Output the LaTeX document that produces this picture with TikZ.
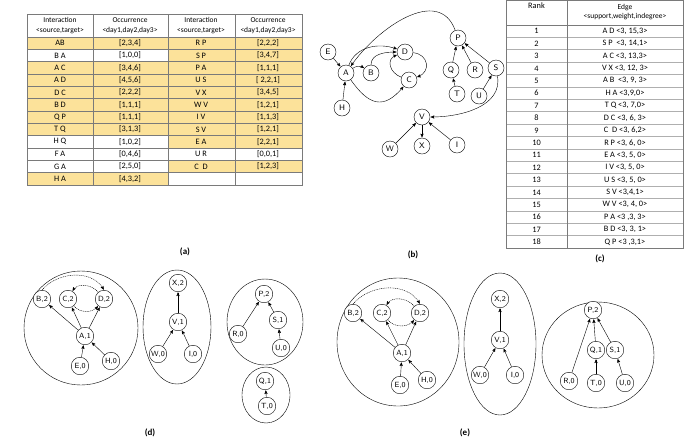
\documentclass[tikz,border=0pt]{standalone}
\usepackage{fontspec}
\setmainfont{Carlito}
\usetikzlibrary{arrows}
\definecolor{rowfill}{HTML}{FCE29A}
\definecolor{rule}{HTML}{7A7A7A}
\tikzset{
c/.style={
  circle,solid,
  inner sep=0pt,
  minimum width=16pt,
  align=center,
  draw=black,
  fill=white,
  font=\sffamily\fontsize{8}{9}\selectfont
  },
cc/.style={c,minimum width=17.5pt,font=\sffamily\fontsize{7.5}{8}\selectfont},
cell/.style={font=\fontsize{8.3}{9}\selectfont,inner sep=0pt},
hd/.style={cell,align=center,font=\fontsize{7.5}{9.5}\selectfont},
lbl/.style={font=\bfseries\fontsize{9}{10}\selectfont},
grp/.style={draw=black,thin},
dot/.style={densely dashed,dash pattern=on 1pt off 0.8pt}
}
\begin{document}
\begin{tikzpicture}[x=1pt,y=1pt,->,>=stealth',shorten >=0.5pt,thin]
\useasboundingbox (0,0) rectangle (685,-440);
% table (a)
\foreach \s/\o/\f [count=\i from 0] in {AB/{[2,3,4]}/1,B A/{[1,0,0]}/0,A C/{[3,4,6]}/1,A D/{[4,5,6]}/1,D C/{[2,2,2]}/1,B D/{[1,1,1]}/1,Q P/{[1,1,1]}/1,T Q/{[3,1,3]}/1,H Q/{[1,0,2]}/0,F A/{[0,4,6]}/0,G A/{[2,5,0]}/0,H A/{[4,3,2]}/1}{
  \ifnum\f=1 \fill[rowfill] (27,-37-\i*12.33) rectangle (168,-49.33-\i*12.33);\fi
  \node[cell] (al\i) at (60,-43.2-\i*12.33) {\s};
  \node[cell] (ao\i) at (130,-43.2-\i*12.33) {\o};
}
\foreach \s/\o/\f [count=\i from 0] in {R P/{[2,2,2]}/1,S P/{[3,4,7]}/1,P A/{[1,1,1]}/1,U S/{[ 2,2,1]}/1,V X/{[3,4,5]}/1,W V/{[1,2,1]}/1,I V/{[1,1,3]}/1,S V/{[1,2,1]}/1,E A/{[2,2,1]}/1,U R/{[0,0,1]}/0,C\ \ D/{[1,2,3]}/1,{}/{}/0}{
  \ifnum\f=1 \fill[rowfill] (168,-37-\i*12.33) rectangle (302,-49.33-\i*12.33);\fi
  \node[cell] (ar\i) at (201,-43.2-\i*12.33) {\s};
  \node[cell] (ap\i) at (268,-43.2-\i*12.33) {\o};
}
\foreach \i in {0,...,12} \draw[-,rule,line width=0.7pt] (27,-37-\i*12.33) -- (302,-37-\i*12.33);
\draw[-,rule,line width=0.7pt] (27,-14) rectangle (302,-185);
\foreach \x in {93,168,235} \draw[-,rule,line width=0.7pt] (\x,-14) -- (\x,-185);
\node[hd] (ah1) at (60,-25.5) {Interaction\\<source,target>};
\node[hd] (ah2) at (130,-25.5) {Occurrence\\<day1,day2,day3>};
\node[hd] (ah3) at (201,-25.5) {Interaction\\<source,target>};
\node[hd] (ah4) at (268,-25.5) {Occurrence\\<day1,day2,day3>};
\node[lbl] (la) at (185,-252) {(a)};
% graph (b)
\node[c] (E) at (328,-52) {E};
\node[c] (A) at (346,-73) {A};
\node[c] (B) at (371,-73) {B};
\node[c] (D) at (405,-52) {D};
\node[c] (C) at (409,-80) {C};
\node[c] (H) at (342,-108) {H};
\node[c] (P) at (458,-38) {P};
\node[c] (Q) at (451,-70) {Q};
\node[c] (R) at (475,-70) {R};
\node[c] (S) at (496,-68) {S};
\node[c] (T) at (457,-94) {T};
\node[c] (U) at (479,-96) {U};
\node[c] (V) at (422,-117) {V};
\node[c] (W) at (390,-149) {W};
\node[c] (X) at (422,-146) {X};
\node[c] (I) at (457,-145) {I};
\path[->]
  (E) edge (A)
  (A) edge [bend left=35] (B)
  (B) edge [out=90,in=180] (D)
  (A) edge [out=70,in=160] (D)
  (D) edge [out=-5,in=20,looseness=1.6] (C)
  (C) edge [out=160,in=200,looseness=1.4] (D)
  (A) edge [out=-55,in=230,looseness=1.5] (C)
  (H) edge (A)
  (P) edge [out=110,in=55,looseness=1.1] (A)
  (Q) edge (P)
  (T) edge (Q)
  (R) edge (P)
  (S) edge (P)
  (U) edge (S)
  (S) edge [out=-80,in=0] (V)
  (W) edge (V)
  (V) edge (X)
  (I) edge (V)
  ;
\draw[-,rule!70] (506,0) -- (506,-230);
\node[lbl] (lb) at (413,-255) {(b)};
% table (c)
\foreach \e [count=\i from 1] in {A D <3{,} 15{,}3>,S P \ <3{,} 14{,}1>,A C <3{,} 13{,}3>,V X <3{,} 12{,} 3>,A B \ <3{,} 9{,} 3>,H A <3{,}9{,}0>,T Q <3{,} 7{,}0>,D C <3{,} 6{,} 3>,C \ D <3{,} 6{,}2>,R P <3{,} 6{,} 0>,E A <3{,} 5{,} 0>,I V <3{,} 5{,} 0>,U S <3{,} 5{,} 0>,S V <3{,}4{,}1>,W V <3{,} 4{,} 0>,P A <3 {,}3{,} 3>,B D <3{,} 3{,} 1>,Q P <3 {,}3{,}1>}{
  \node[cell] (cr\i) at (536.5,-18.8-\i*12.4) {\i};
  \node[cell] (ce\i) at (625,-18.8-\i*12.4) {\e};
  \draw[-,rule!60,line width=0.9pt] (506,-25-\i*12.4) -- (683,-25-\i*12.4);
}
\draw[-,rule,line width=0.7pt] (506,0) rectangle (683,-248.2);
\draw[-,rule,line width=0.7pt] (567,0) -- (567,-248.2);
\draw[-,rule,line width=0.7pt] (506,-25) -- (683,-25);
\node[cell] (ch1) at (536.5,-6) {Rank};
\node[hd] (ch2) at (625,-12) {Edge\\<support,weight,indegree>};
\node[lbl] (lc) at (600,-259) {(c)};
% forest (d)
\draw[grp] (81,-328) circle (57);
\draw[grp] (177,-327) ellipse (34 and 57);
\draw[grp] (265,-322) ellipse (38 and 43);
\draw[grp] (266,-395) ellipse (24 and 28);
\node[cc] (dB) at (42,-299) {B,2};
\node[cc] (dC) at (68,-299) {C,2};
\node[cc] (dD) at (104,-299) {D,2};
\node[cc] (dA) at (85,-336) {A,1};
\node[cc] (dE) at (80,-366) {E,0};
\node[cc] (dH) at (111,-361) {H,0};
\node[cc] (dX) at (178,-283) {X,2};
\node[cc] (dV) at (178,-322) {V,1};
\node[cc] (dW) at (158,-354) {W,0};
\node[cc] (dI) at (193,-354) {I,0};
\node[cc] (dP) at (264,-294) {P,2};
\node[cc] (dS) at (278,-320) {S,1};
\node[cc] (dR) at (238,-334) {R,0};
\node[cc] (dU) at (281,-348) {U,0};
\node[cc] (dQ) at (265,-381) {Q,1};
\node[cc] (dT) at (267,-406) {T,0};
\path[->]
  (dA) edge (dB) (dA) edge (dC) (dA) edge (dD)
  (dE) edge (dA) (dH) edge (dA)
  (dB.north) edge [dot,out=50,in=120] (dD.north)
  (dD) edge [dot,out=130,in=60] (dC)
  (dC) edge [dot,out=-50,in=-130] (dD)
  (dV) edge (dX) (dW) edge (dV) (dI) edge (dV)
  (dR) edge (dP) (dS) edge (dP) (dU) edge (dS)
  (dT) edge (dQ)
  ;
\node[lbl] (ld) at (150,-433) {(d)};
% forest (e)
\draw[grp] (398,-342) ellipse (61 and 64);
\draw[grp] (500,-344) ellipse (36 and 71);
\draw[grp] (598,-355) ellipse (56 and 53);
\node[cc] (eB) at (353,-313) {B,2};
\node[cc] (eC) at (382,-313) {C,2};
\node[cc] (eD) at (420,-313) {D,2};
\node[cc] (eA) at (402,-353) {A,1};
\node[cc] (eE) at (400,-385) {E,0};
\node[cc] (eH) at (427,-380) {H,0};
\node[cc] (eX) at (500,-299) {X,2};
\node[cc] (eV) at (500,-340) {V,1};
\node[cc] (eW) at (480,-375) {W,0};
\node[cc] (eI) at (515,-375) {I,0};
\node[cc] (eP) at (593,-310) {P,2};
\node[cc] (eQ) at (596,-350) {Q,1};
\node[cc] (eS) at (615,-350) {S,1};
\node[cc] (eR) at (569,-381) {R,0};
\node[cc] (eT) at (596,-383) {T,0};
\node[cc] (eU) at (625,-383) {U,0};
\path[->]
  (eA) edge (eB) (eA) edge (eC) (eA) edge (eD)
  (eE) edge (eA) (eH) edge (eA)
  (eB.north) edge [dot,out=50,in=120] (eD.north)
  (eD) edge [dot,out=130,in=60] (eC)
  (eC) edge [dot,out=-50,in=-130] (eD)
  (eV) edge (eX) (eW) edge (eV) (eI) edge (eV)
  (eR) edge (eP) (eQ) edge (eP) (eS) edge (eP)
  (eT) edge (eQ) (eU) edge (eS)
  ;
\node[lbl] (le) at (465,-433) {(e)};
\end{tikzpicture}
\end{document}
